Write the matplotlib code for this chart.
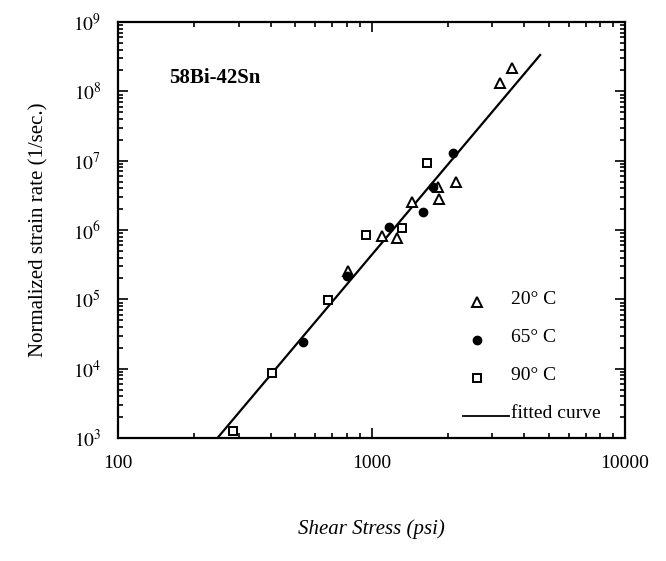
import numpy as np
import matplotlib
matplotlib.use('Agg')
import matplotlib.pyplot as plt
from matplotlib.ticker import LogLocator, FixedLocator, NullFormatter

plt.rcParams['font.family'] = ['Liberation Serif', 'DejaVu Serif']
plt.rcParams['mathtext.fontset'] = 'stix'

# 20 C data (triangles)
stress_20 = [3573, 3214, 2154, 1835, 1850, 1442, 1097, 1256, 809]
rate_20 = [2.15e8, 1.31e8, 4.98e6, 4.21e6, 2.77e6, 2.56e6, 8.18e5, 7.59e5, 2.56e5]

# 65 C data (filled circles)
stress_65 = [2103, 1755, 1592, 1175, 800, 538]
rate_65 = [1.28e7, 4.21e6, 1.84e6, 1.09e6, 2.17e5, 2.45e4]

# 90 C data (open squares)
stress_90 = [1652, 951, 1315, 676, 404, 283]
rate_90 = [9.35e6, 8.47e5, 1.06e6, 9.77e4, 8.57e3, 1.27e3]

# fitted curve end points
fit_stress = [249, 4625]
fit_rate = [1.04e3, 3.34e8]

xticks = [100, 1000, 10000]
xticklabels = ['100', '1000', '10000']
yticks = [1e3, 1e4, 1e5, 1e6, 1e7, 1e8, 1e9]
yticklabels = [r'$10^{%d}$' % k for k in range(3, 10)]

fig = plt.figure(figsize=(6.66, 5.61), dpi=100)
ax = fig.add_axes([118/666, 1-438/561, (625-118)/666, (438-22)/561])

ax.set_xscale('log')
ax.set_yscale('log')
ax.set_xlim(100, 10000)
ax.set_ylim(1e3, 1e9)

ax.plot(fit_stress, fit_rate, color='black', lw=1.6)
ax.plot(stress_20, rate_20, linestyle='none', marker='^', ms=6.5, mfc='white',
        mec='black', mew=1.4)
ax.plot(stress_65, rate_65, linestyle='none', marker='o', ms=6, mfc='black',
        mec='black')
ax.plot(stress_90, rate_90, linestyle='none', marker='s', ms=6, mfc='white',
        mec='black', mew=1.4)

ax.xaxis.set_major_locator(FixedLocator(xticks))
ax.set_xticklabels(xticklabels)
ax.yaxis.set_major_locator(FixedLocator(yticks))
ax.set_yticklabels(yticklabels)
ax.xaxis.set_minor_locator(LogLocator(base=10, subs=np.arange(2, 10), numticks=20))
ax.yaxis.set_minor_locator(LogLocator(base=10, subs=np.arange(2, 10), numticks=20))
ax.xaxis.set_minor_formatter(NullFormatter())
ax.yaxis.set_minor_formatter(NullFormatter())

ax.tick_params(which='both', direction='in', top=True, right=True, width=1.2,
               labelsize=14)
ax.tick_params(which='major', length=7, pad=12)
ax.tick_params(which='minor', length=3.5)
for s in ax.spines.values():
    s.set_linewidth(1.6)

ax.text(0.10, 0.865, '58Bi-42Sn', transform=ax.transAxes, fontsize=15,
        fontweight='bold', va='center')

ax.set_xlabel('Shear Stress (psi)', fontsize=15, style='italic', labelpad=34)
ax.set_ylabel('Normalized strain rate (1/sec.)', fontsize=15, labelpad=18)

# legend entries placed in axes fraction
leg_x = (477 - 118) / 507
txt_x = (511 - 118) / 507
def yfrac(py):
    return (438 - py) / 416
ax.plot([leg_x], [yfrac(302)], marker='^', ms=6.5, mfc='white', mec='black',
        mew=1.4, transform=ax.transAxes)
ax.plot([leg_x], [yfrac(340)], marker='o', ms=6, mfc='black', mec='black',
        transform=ax.transAxes)
ax.plot([leg_x], [yfrac(378)], marker='s', ms=6, mfc='white', mec='black',
        mew=1.4, transform=ax.transAxes)
ax.plot([(463 - 118) / 507, (509 - 118) / 507], [yfrac(416), yfrac(416)],
        color='black', lw=1.3, transform=ax.transAxes)
for py, label in [(299, '20° C'), (337, '65° C'), (375, '90° C'), (413, 'fitted curve')]:
    ax.text(txt_x, yfrac(py), label, transform=ax.transAxes, fontsize=14,
            va='center', ha='left')

fig.savefig('out.png', dpi=100)
